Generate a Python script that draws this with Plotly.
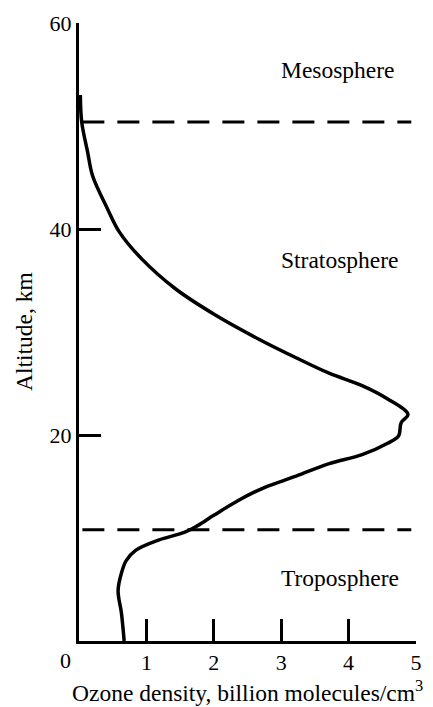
import plotly.graph_objects as go

# Ozone density profile (billion molecules/cm^3) vs altitude (km)
altitude = [0, 2.7, 4.9, 6.6, 7.8, 8.8, 9.8, 10.56, 11.2, 12.2, 13.6, 14.9, 16.0,
            17.2, 18.1, 19.2, 19.9, 21.2, 22.0, 23.5, 24.8, 26.0, 27.5, 29.4,
            31.7, 34.2, 37.1, 39.7, 42.0, 45.2, 47.4, 50.4, 53.0]
ozone = [0.67, 0.63, 0.58, 0.63, 0.70, 0.84, 1.18, 1.57, 1.76, 2.0, 2.35, 2.75, 3.22,
         3.70, 4.20, 4.58, 4.74, 4.78, 4.88, 4.58, 4.20, 3.71, 3.22, 2.64,
         2.01, 1.43, 0.93, 0.60, 0.42, 0.20, 0.13, 0.04, 0.02]

# Layer boundaries (km) and layer labels
boundaries = [10.8, 50.4]
boundary_x = [0.05, 4.93]
layer_names = ["Troposphere", "Stratosphere", "Mesosphere"]
layer_alt = [6.1, 37.0, 55.4]
layer_x = [2.97, 2.97, 2.97]

x_ticks = [1, 2, 3, 4, 5]
y_ticks = [20, 40, 60]

FONT = "Liberation Serif"

fig = go.Figure()

for b in boundaries:
    fig.add_trace(go.Scatter(
        x=boundary_x, y=[b, b], mode="lines",
        line=dict(color="black", width=3, dash="22px,13px"),
        hoverinfo="skip", showlegend=False))

fig.add_trace(go.Scatter(
    x=ozone, y=altitude, mode="lines",
    line=dict(color="black", width=3.5, shape="spline", smoothing=1.0),
    showlegend=False, cliponaxis=False))

for name, a, xx in zip(layer_names, layer_alt, layer_x):
    fig.add_annotation(x=xx, y=a, text=name, showarrow=False, xanchor="left",
                       font=dict(family=FONT, size=23.5, color="black"))

# corner "0" label
fig.add_annotation(x=0, y=0, xref="x", yref="y", text="0", showarrow=False,
                   xanchor="center", yanchor="top", xshift=-14, yshift=-5,
                   font=dict(family=FONT, size=22, color="black"))

# axis titles
fig.add_annotation(x=0.5, y=0, xref="paper", yref="paper",
                   text="Ozone density, billion molecules/cm<sup>3</sup>",
                   showarrow=False, xanchor="center", yanchor="top", yshift=-33,
                   font=dict(family=FONT, size=23.5, color="black"))
fig.add_annotation(x=0, y=0.5, xref="paper", yref="paper", text="Altitude, km",
                   textangle=-90, showarrow=False, xanchor="center", yanchor="middle",
                   xshift=-55, font=dict(family=FONT, size=23.5, color="black"))

fig.update_xaxes(range=[0, 5], tickvals=x_ticks, ticktext=[str(v) for v in x_ticks],
                 showline=True, linewidth=3, linecolor="black",
                 ticks="inside", ticklen=22, tickwidth=3, tickcolor="black",
                 showgrid=False, zeroline=False,
                 tickfont=dict(family=FONT, size=22, color="black"))
fig.update_yaxes(range=[0, 60], tickvals=y_ticks, ticktext=[str(v) for v in y_ticks],
                 showline=True, linewidth=3, linecolor="black",
                 ticks="inside", ticklen=22, tickwidth=3, tickcolor="black",
                 showgrid=False, zeroline=False,
                 tickfont=dict(family=FONT, size=22, color="black"))

fig.update_layout(width=433, height=707,
                  margin=dict(l=79, r=11, t=20, b=66),
                  paper_bgcolor="white", plot_bgcolor="white",
                  font=dict(family=FONT, color="black"))

fig.write_html("out.html")
